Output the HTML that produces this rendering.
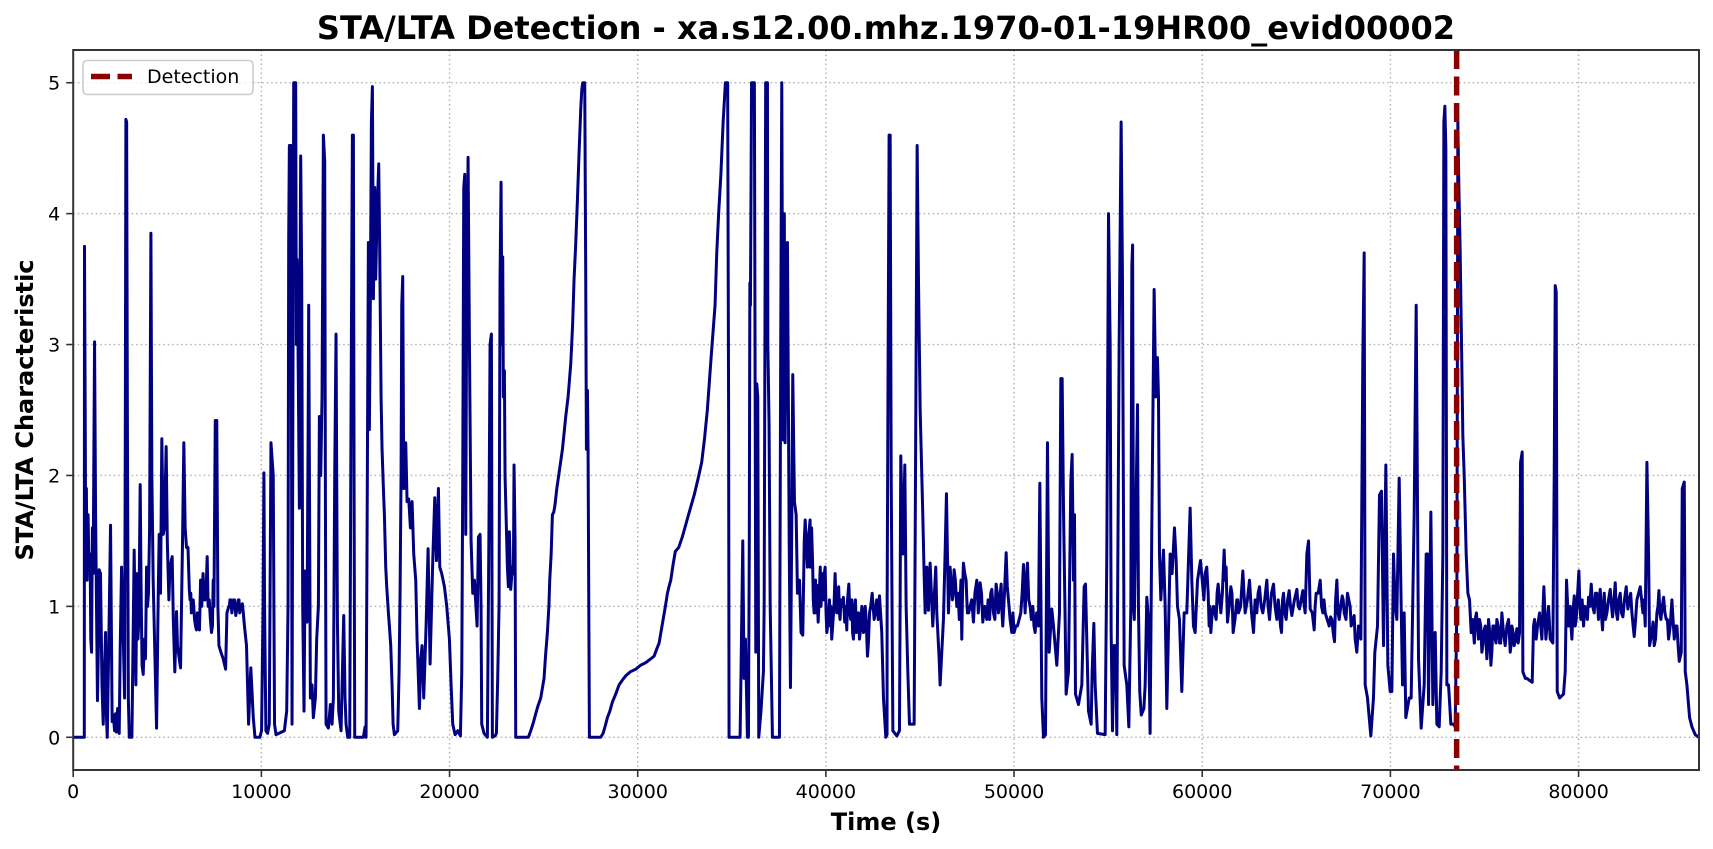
<!DOCTYPE html>
<html lang="en">
<head>
<meta charset="utf-8">
<title>STA/LTA Detection</title>
<style>
html,body{margin:0;padding:0;background:#fff;width:1713px;height:849px;overflow:hidden}
svg{display:block;font-family:"DejaVu Sans","Liberation Sans",sans-serif}
</style>
</head>
<body>
<svg id="chart" width="1713" height="849" viewBox="0 0 1713 849" xmlns="http://www.w3.org/2000/svg">
<rect x="0" y="0" width="1713" height="849" fill="#fff"/>
<defs><clipPath id="plot-clip"><rect x="73.2" y="50" width="1625.8" height="720"/></clipPath></defs>
<g id="grid-layer"></g>
<g id="series-layer" clip-path="url(#plot-clip)"></g>
<rect x="73.2" y="50" width="1625.8" height="720" fill="none" stroke="#333" stroke-width="2"/>
<g id="tick-layer"></g>
<g>
<rect x="83" y="60.5" width="170" height="34" rx="4" fill="#fff" fill-opacity="0.8" stroke="#ccc" stroke-width="1.6"/>
<line x1="91" y1="76.5" x2="132" y2="76.5" stroke="#8B0000" stroke-width="5.5" stroke-dasharray="19 7.5"/>
<text x="147" y="83" font-size="19" fill="#000">Detection</text>
</g>
<text x="886" y="39" font-size="32" font-weight="700" text-anchor="middle" fill="#000">STA/LTA Detection - xa.s12.00.mhz.1970-01-19HR00_evid00002</text>
<text x="886" y="830" font-size="24" font-weight="700" text-anchor="middle" fill="#000">Time (s)</text>
<text transform="translate(33 410) rotate(-90)" font-size="24" font-weight="700" text-anchor="middle" fill="#000">STA/LTA Characteristic</text>
</svg>
<script>
const xTickValues=[0,10000,20000,30000,40000,50000,60000,70000,80000];
const yTickValues=[0,1,2,3,4,5];
const detectionTimes=[73520];
const sampleTimes=[
0,590,600,640,660,700,740,790,830,900,
935,975,1020,1060,1135,1190,1290,1340,1380,1450,
1530,1595,1660,1720,1770,1810,1900,1985,2025,2070,
2130,2200,2250,2300,2360,2445,2500,2570,2640,2730,
2770,2800,2840,2880,2930,2980,3120,3170,3240,3290,
3330,3385,3440,3490,3560,3610,3660,3720,3780,3840,
3900,3950,4000,4060,4130,4180,4250,4330,4430,4520,
4570,4640,4710,4785,4850,4940,5000,5085,5140,5260,
5320,5400,5490,5540,5705,5810,5880,5950,6020,6100,
6170,6250,6320,6450,6550,6650,6770,6830,6900,7030,
7120,7230,7350,7440,7480,7550,7630,7690,7745,7850,
7970,8100,8170,8270,8330,8430,8510,8640,8770,8850,
8950,9040,9100,9210,9320,9440,9570,9660,9920,10010,
10090,10135,10170,10240,10330,10420,10510,10630,10700,10779,
11222,11346,11417,11452,11488,11576,11630,11665,11718,11824,
11860,11895,11948,12020,12055,12090,12143,12197,12267,12320,
12427,12480,12515,12569,12604,12693,12763,12870,12940,13030,
13083,13154,13224,13295,13366,13400,13437,13561,13667,13756,
13827,13898,13968,14040,14110,14235,14323,14376,14447,14500,
14589,14695,14766,14837,14890,14925,14961,15421,15510,15563,
15616,15687,15740,15794,15847,15900,15953,16024,16077,16148,
16237,16290,16361,16414,16485,16538,16609,16662,16751,16804,
16875,16946,17000,17070,17247,17318,17371,17424,17460,17512,
17566,17619,17672,17743,17832,17920,18009,18097,18204,18275,
18399,18470,18540,18629,18753,18860,18966,19108,19214,19303,
19409,19480,19586,19728,19851,19993,20082,20170,20295,20437,
20578,20650,20702,20755,20808,20861,20915,20985,21057,21145,
21234,21322,21464,21535,21621,21674,21710,21834,22011,22100,
22153,22224,22277,22418,22490,22560,22631,22684,22737,22790,
22826,22861,22915,22950,23021,23074,23127,23180,23251,23340,
23393,23428,23482,23517,24190,24315,24580,24846,25022,25200,
25325,25466,25608,25821,26175,26441,26618,26795,26973,27079,
27185,27238,27274,27327,27362,27433,28036,28160,28390,28656,
29010,29365,29896,30428,30871,31137,31350,31580,31757,32000,
32370,33000,33400,33700,34110,34300,34540,34660,34780,34830,
34855,35440,35476,35583,35650,35725,35830,35884,35930,35960,
35990,36050,36200,36275,36327,36380,36433,36550,36680,36720,
36800,36894,36915,36980,37040,37160,37532,37600,37656,37700,
37745,37790,37833,37880,37957,38010,38050,38117,38180,38240,
38330,38420,38490,38600,38680,38772,38850,38900,39040,39160,
39300,39375,39450,39520,39590,39700,39960,40050,40190,40310,
40490,40580,40680,40755,40930,41110,41220,41320,41465,41570,
41680,41785,41910,42000,42090,42210,42320,42460,42565,42848,
42970,43060,43185,43250,43255,43310,43360,43415,43470,43560,
43770,43910,43945,43980,44090,44195,44265,44355,44442,44690,
44745,44850,44920,45010,45150,45220,45275,45365,45450,45540,
45680,45840,45895,46020,46070,46247,46335,46407,46513,46600,
46725,46815,46956,47133,47222,47310,47452,47523,47665,47842,
48020,48196,48338,48550,48817,48905,49047,49171,49313,49400,
49580,49703,49880,50004,50180,50358,50500,50589,50713,50854,
51120,51297,51370,51475,51563,51670,51776,51865,52006,52095,
52272,52414,52485,52556,52627,52715,52768,52892,53016,53087,
53158,53211,53264,53424,53601,53725,53796,53955,54097,54150,
54240,54310,54433,54842,54930,55020,55107,55160,55232,55300,
55390,55460,55585,55690,55762,55850,55992,56100,56206,56260,
56300,56350,56390,56560,56610,56680,56760,56900,56968,57055,
57143,57230,57320,57444,57533,57620,57675,57728,57800,57940,
58030,58118,58295,58400,58525,58614,58685,58790,58915,59040,
59180,59358,59447,59535,59624,59750,59907,60030,60155,60315,
60368,60457,60600,60740,60846,60990,61165,61270,61343,61520,
61644,61840,61927,62158,62282,62512,62725,62900,63044,63220,
63434,63575,63788,63965,64107,64213,64320,64460,64620,64763,
65030,65170,65347,65470,65560,65650,65737,65950,66056,66270,
66410,66535,66747,66890,67030,67155,67280,67440,67545,67720,
67860,67915,68074,68127,68216,68305,68430,68535,68606,68659,
68783,68960,69100,69173,69315,69420,69527,69634,69758,69864,
69988,70077,70165,70254,70342,70466,70573,70644,70732,70820,
70998,71104,71264,71370,71494,71636,71795,71902,71973,72026,
72150,72256,72380,72469,72593,72699,72788,72841,72894,72947,
73000,73090,73213,73355,73443,73532,73585,73638,73709,73780,
73850,73922,74028,74117,74205,74294,74418,74507,74630,74737,
74861,74950,75127,75215,75340,75446,75570,75658,75800,75924,
76100,76279,76367,76456,76580,76722,76863,76917,77005,77040,
77170,77250,77536,77607,77660,77749,77820,77926,78050,78156,
78263,78404,78493,78635,78706,78760,78812,78866,78990,79200,
79290,79360,79468,79556,79645,79770,79875,80017,80123,80265,
80407,80531,80673,80832,80974,81151,81275,81364,81505,81683,
81807,81948,82072,82214,82356,82533,82710,82834,82958,83100,
83277,83419,83543,83632,83720,83774,83897,84021,84163,84270,
84376,84518,84660,84784,84961,85085,85227,85351,85457,85510,
85617,85670,85758,85900,86024,86200,86380];
const staLtaValues=[
0,0,3.75,2.4,1.5,1.9,1.2,1.7,1.35,1.4,
0.75,0.65,1.6,1.25,3.02,1.7,0.28,0.7,1.28,1.25,
0.4,0.1,0.5,0.8,0.15,0,0.8,1.62,0.9,0.12,
0.17,0.05,0.18,0.04,0.22,0.03,0.7,1.3,0.9,0.3,
2.4,4.72,4.7,2.4,0.3,0,0,0.6,1.43,0.9,
0.4,1.25,0.75,0.9,1.93,1.1,0.55,0.48,0.75,0.6,
1.3,1,1.1,1.6,3.85,2,1.2,0.7,0.07,1.1,
1.55,1.1,2.28,1.55,1.6,2.22,1.5,1.05,1.3,1.38,
0.9,0.5,0.96,0.7,0.53,1.5,2.25,1.6,1.45,1.45,
1.13,1.1,1,0.9,0.82,0.85,1.2,1,1.25,1.05,
1.38,1.05,0.8,1.2,1,2.42,2.42,1,0.7,0.65,
0.6,0.52,0.95,1,1.05,0.95,1.05,0.93,1.05,0.95,
1,0.95,0.85,0.7,0.1,0.53,0.15,0,0,0.05,
1,2.02,1,0.05,0.03,0.1,2.25,2,0.1,0.02,
0.05,0.2,1,3.8,4.52,4.52,0.1,2,5,5,
3,3.65,3,1.75,3.5,4.44,3.5,1,0.2,1.27,
0.88,2.2,3.3,1.5,0.3,0.4,0.15,0.3,0.75,1,
2.45,2,2.6,4.6,4.4,2,0.1,0.07,0.25,0.1,
0.3,2,3.08,0.9,0.2,0.05,0.6,0.93,0.3,0.1,
0,0,2.5,4.6,4.6,2,0,0,0.08,0,
1.5,3.78,2.35,3.4,4.7,4.97,3.35,4.2,3.5,4,
4.38,3.7,2.6,2.2,1.9,1.7,1.3,1.15,0.95,0.85,
0.7,0.4,0.1,0.02,0.05,0.5,1.1,2,3.3,3.52,
1.9,2.2,2.25,1.8,1.82,1.6,1.8,1.4,1.2,0.75,
0.22,0.6,0.7,0.3,0.85,1.44,0.56,1.35,1.83,1.35,
1.9,1.3,1.25,1.15,1,0.75,0.4,0.1,0.02,0.05,
0.01,0.5,2,4.2,4.3,1.55,3.5,4.43,3,1.5,
1.1,1.2,0.85,1.53,1.55,1,0.1,0.03,0,1.7,
3,3.08,0,0.01,0.03,0.45,1,3.5,4.24,3,
3.67,2.6,2.8,2,1.6,1.3,1.15,1.57,1.13,1.3,
1.25,2.08,1.5,0,0,0.05,0.18,0.3,0.45,0.8,
1.2,1.7,1.78,2.02,2.45,2.85,3.5,4.1,4.8,5,
5,3.5,2.2,2.65,2.2,0,0,0.03,0.15,0.27,
0.4,0.47,0.52,0.57,0.62,0.72,0.9,1.1,1.2,1.42,
1.53,1.85,2.1,2.5,3.3,4,4.7,5,5,2.5,
0,0,0.35,1.5,0.45,0.75,0,0,1.5,3.47,
3.3,5,5,0.65,2.7,2.6,0,0.2,0.5,1,
5,5,3,2.4,1,0,0,3,5,3,
2.27,4,2.25,3,3.78,2.5,1.5,0.38,1.5,2.77,
1.8,1.7,1.1,1.2,0.8,0.78,1.5,1.66,1.45,1.66,
1.3,0.95,1.2,1.16,0.88,1.3,1.3,0.8,1.05,0.75,
1.25,0.95,1.15,0.9,1.07,0.82,1.17,0.9,0.75,1.05,
0.85,0.75,1,0.8,1,0.62,0.95,1.1,0.9,1.08,
0.8,0.3,0,0.02,1,3,4.6,4.6,2,0.05,
0.01,0.05,1,2.15,1.4,2.08,1,0.5,0.1,0.1,
1.5,4.52,3.5,2.5,1.7,1.25,0.95,1.3,0.97,1.33,
0.85,1.3,0.95,0.6,0.4,0.9,1.4,1.86,0.95,1.3,
1.05,1.28,1,1.05,0.75,1.33,1.2,0.95,1,0.88,
1.2,1.18,0.88,0.9,1.13,0.95,1.17,0.95,1.17,0.85,
1.41,1.05,0.8,0.8,0.85,0.95,1.32,0.95,1.33,1,
0.8,0.85,1.94,0.3,0,0.02,2.25,0.65,0.98,0.85,
0.55,0.95,2.74,2.74,1.75,0.9,0.33,0.5,1.95,2.16,
1.2,1.7,0.33,0.25,0.4,1.15,1.17,0.2,0.1,0.5,
0.87,0.4,0.03,0.02,1.4,4,3,0.8,0.05,0.7,
0.7,0.02,3,4.7,3.5,0.55,0.4,0.08,1,3.6,
3.76,1,0.9,2.54,1,0.35,0.17,0.22,0.4,1.07,
0.9,0.03,1.6,3.42,2.6,2.9,2.6,1.4,1.05,1.43,
1,0.22,1.4,1.25,1.6,1.35,1,0.9,0.35,0.95,
0.95,1.75,1.2,0.85,0.8,1.2,1.35,1.15,1.25,1.1,
0.85,0.8,1,0.9,1.17,0.95,1.43,1.3,0.88,1.15,
0.8,1.05,0.95,1.27,0.95,1.2,0.8,0.95,1.15,0.95,
1.2,0.9,1.17,0.9,0.95,0.8,1.1,0.9,1.12,0.93,
1.13,0.98,1.12,0.95,1.4,1.5,0.98,0.82,1.1,1.2,
0.95,0.95,0.85,0.9,0.73,1.2,0.9,1.08,0.95,1.1,
1,0.85,0.93,0.75,0.65,0.85,0.75,2.9,3.7,0.4,
0.3,0.01,0.3,0.65,0.85,1.85,1.88,0.7,2.08,0.55,
0.35,0.35,1.4,1,0.9,1.98,1,0.4,0.95,0.15,
0.3,0.3,1.7,3.3,0.6,0.07,0.4,1.4,1.4,0.25,
1.72,0.25,0.8,0.1,0.08,0.5,1.4,4.7,4.82,4.5,
0.4,0.4,0.1,0.1,0.08,1,4.7,4.2,3.7,3,
2.3,2,1.4,1.1,1.05,0.8,0.8,0.9,0.85,0.9,
0.65,0.8,0.6,0.9,0.55,0.85,0.75,0.9,0.72,0.95,
0.7,0.9,0.65,0.85,0.7,0.83,0.8,2.1,2.18,0.5,
0.45,0.45,0.42,0.85,0.9,0.75,0.85,0.95,0.75,1.15,
0.75,1,0.75,0.72,2,3.45,3.4,0.35,0.3,0.33,
0.5,1.2,0.85,1,0.75,1.08,0.9,1.27,0.9,0.85,
0.95,1.07,1.17,0.95,1.1,1.13,0.82,1.1,0.95,1.13,
0.92,1.18,0.9,1.1,0.92,1.15,1.05,0.95,0.77,1.05,
1.15,0.95,0.85,2.1,1.4,0.7,0.8,0.7,0.95,1.12,
0.9,1.07,0.9,0.75,1.05,0.75,0.85,0.58,0.65,1.9,
1.95,0.5,0.4,0.15,0.08,0.02,0];
const detailTimes=[
6210,6280,6380,6500,6600,6710,6800,6860,6960,7080,
7170,7290,7400,8300,8380,8470,8570,8700,8810,8900,
8990,24450,24700,25100,25280,25400,25540,25700,26000,26300,
26540,26700,26880,27030,28280,28520,28830,29200,29600,30150,
30700,31000,31470,31660,31880,32180,32700,33200,33550,33900,
34200,34420,39020,39095,39170,39240,39330,39410,39490,39560,
39640,39740,39800,39880,39920,40010,40090,40150,40230,40270,
40360,40430,40530,40630,40720,40800,40860,41000,41060,41150,
41270,41380,41420,41520,41620,41730,41840,41960,42040,42140,
42260,42380,42500,42620,42700,42780,46650,46770,46880,47030,
47090,47180,47260,47380,47490,47590,47750,47920,48100,48270,
48440,48620,48700,48760,48860,48980,49110,49240,49360,49490,
49640,49790,49940,50090,50270,50430,50550,50650,50780,50920,
51000,51060,51200,60090,60240,60410,60530,60670,60790,60920,
61070,61220,61310,61430,61580,61740,61880,62040,62220,62400,
62620,62810,62970,63130,63320,63500,63680,63870,64040,64160,
64270,64390,64540,64690,64900,65100,65260,65410,65850,66000,
66160,66340,66470,66640,66820,66960,67090,67220,67360,67490,
67640,74360,74460,74570,74680,74800,74910,75040,75170,75280,
75390,75510,75610,75730,75860,76010,76190,76320,76410,76520,
76650,76790,79510,79600,79700,79820,79950,80070,80190,80340,
80470,80600,80750,80900,81060,81210,81320,81430,81590,81750,
81880,82010,82140,82280,82440,82620,82770,82900,83030,83190,
83350,83480,83960,84090,84220,84320,84450,84590,84720,84870,
85020,85160,85290];
const detailValues=[
1.05,0.95,1.05,0.85,0.95,0.82,1.05,1.1,1.05,1.2,
1,0.9,0.85,1,1.05,1,1.05,0.98,1.05,1,
1.02,0.11,0.24,0.62,1,1.4,1.72,1.9,2.2,2.6,
3.15,3.75,4.45,4.95,0.09,0.2,0.33,0.44,0.5,0.55,
0.6,0.67,1,1.15,1.32,1.45,1.7,1.97,2.28,2.9,
3.7,4.3,1.3,1.55,1.3,1.6,1.05,1.1,0.95,1,
1.05,1,1.25,1.05,1.25,0.95,0.85,0.95,0.85,1,
0.85,1,1.05,1.1,0.95,1.05,1,0.88,1,1.05,
0.95,1.05,0.8,0.98,0.8,0.95,0.82,0.85,0.95,0.9,
0.72,1,1.02,0.95,1.05,0.9,1.2,1.1,1.2,1.1,
0.9,1.2,1.1,1.25,1.05,0.95,1.05,1.1,0.95,1.1,
1,1.05,0.9,1.1,1.05,0.9,1.1,1.05,0.95,1.1,
1.15,0.9,0.95,0.85,0.9,1.1,1.1,1.2,1.05,0.9,
1,0.85,0.95,1.05,1.3,1,0.95,0.95,1.1,1.05,
1.1,1.2,1.05,1,1.1,0.9,1.05,1,1.1,1.05,
0.95,1.05,1.1,1,1.05,1,1.1,1,1.05,0.85,
1.05,0.95,1.05,1,1.05,1,1.05,1.02,0.95,1,
1.1,1,1.05,0.9,0.92,0.8,1.05,0.95,1,1.05,
0.9,0.9,0.72,0.95,0.75,0.85,0.7,0.85,0.7,0.8,
0.65,0.85,0.72,0.85,0.72,0.8,0.85,0.8,0.7,0.8,
0.75,0.72,0.9,0.85,0.95,0.85,1.1,1,1.05,1,
0.9,1,1,1.1,0.9,0.95,1,0.9,1.05,1,
1.05,0.95,1.05,0.95,1.05,0.98,1.1,0.85,0.9,1.1,
1.05,1.05,0.88,0.75,1,0.95,1,0.95,0.9,0.85,
0.9,0.85,0.7];

const plotLeft=73.2,plotRight=1699,plotTop=50,plotBottom=770;
const xDomainMax=86400,yDomainMin=-0.25,yDomainMax=5.25;
function xScale(t){return plotLeft+(t/xDomainMax)*(plotRight-plotLeft);}
function yScale(v){return plotBottom-((v-yDomainMin)/(yDomainMax-yDomainMin))*(plotBottom-plotTop);}
const NS='http://www.w3.org/2000/svg';
const gridLayer=document.getElementById('grid-layer');
const tickLayer=document.getElementById('tick-layer');
const seriesLayer=document.getElementById('series-layer');

xTickValues.forEach(function(tick){
  const px=xScale(tick);
  if(tick>0){
    const g=document.createElementNS(NS,'line');
    
    
    g.setAttribute('x1',px);g.setAttribute('x2',px);g.setAttribute('y1',plotTop);g.setAttribute('y2',plotBottom);
    g.setAttribute('stroke','#b0b0b0');g.setAttribute('stroke-width','1.4');g.setAttribute('stroke-dasharray','1.5 3');
    gridLayer.appendChild(g);
  }
  const m=document.createElementNS(NS,'line');
  
  
  m.setAttribute('x1',px);m.setAttribute('x2',px);m.setAttribute('y1',plotBottom);m.setAttribute('y2',plotBottom+7);
  m.setAttribute('stroke','#333');m.setAttribute('stroke-width','1.6');
  tickLayer.appendChild(m);
  const t=document.createElementNS(NS,'text');
  
  
  t.setAttribute('x',px);t.setAttribute('y',plotBottom+28);t.setAttribute('font-size','19');t.setAttribute('text-anchor','middle');
  t.textContent=String(tick);
  tickLayer.appendChild(t);
});
yTickValues.forEach(function(tick){
  const py=yScale(tick);
  const g=document.createElementNS(NS,'line');
  
  
  g.setAttribute('x1',plotLeft);g.setAttribute('x2',plotRight);g.setAttribute('y1',py);g.setAttribute('y2',py);
  g.setAttribute('stroke','#b0b0b0');g.setAttribute('stroke-width','1.4');g.setAttribute('stroke-dasharray','1.5 3');
  gridLayer.appendChild(g);
  const m=document.createElementNS(NS,'line');
  
  
  m.setAttribute('x1',plotLeft-7);m.setAttribute('x2',plotLeft);m.setAttribute('y1',py);m.setAttribute('y2',py);
  m.setAttribute('stroke','#333');m.setAttribute('stroke-width','1.6');
  tickLayer.appendChild(m);
  const t=document.createElementNS(NS,'text');
  
  
  t.setAttribute('x',plotLeft-13);t.setAttribute('y',py+7);t.setAttribute('font-size','19');t.setAttribute('text-anchor','end');
  t.textContent=String(tick);
  tickLayer.appendChild(t);
});

let traceSamples=[];
for(let i=0;i<Math.min(sampleTimes.length,staLtaValues.length);i++){traceSamples.push([sampleTimes[i],staLtaValues[i]]);}
for(let i=0;i<Math.min(detailTimes.length,detailValues.length);i++){traceSamples.push([detailTimes[i],detailValues[i]]);}
traceSamples.sort(function(a,b){return a[0]-b[0];});
const tracePoints=traceSamples.map(function(s){return xScale(s[0]).toFixed(2)+','+yScale(s[1]).toFixed(2);});
const trace=document.createElementNS(NS,'polyline');


trace.setAttribute('points',tracePoints.join(' '));
trace.setAttribute('fill','none');trace.setAttribute('stroke','#000080');trace.setAttribute('stroke-width','3');trace.setAttribute('stroke-linejoin','round');
seriesLayer.appendChild(trace);

detectionTimes.forEach(function(t){
  const d=document.createElementNS(NS,'line');
  
  
  d.setAttribute('x1',xScale(t));d.setAttribute('x2',xScale(t));d.setAttribute('y1',plotTop);d.setAttribute('y2',plotBottom);
  d.setAttribute('stroke','#8B0000');d.setAttribute('stroke-width','5.5');d.setAttribute('stroke-dasharray','19 7.5');
  seriesLayer.appendChild(d);
});
</script>
</body>
</html>
